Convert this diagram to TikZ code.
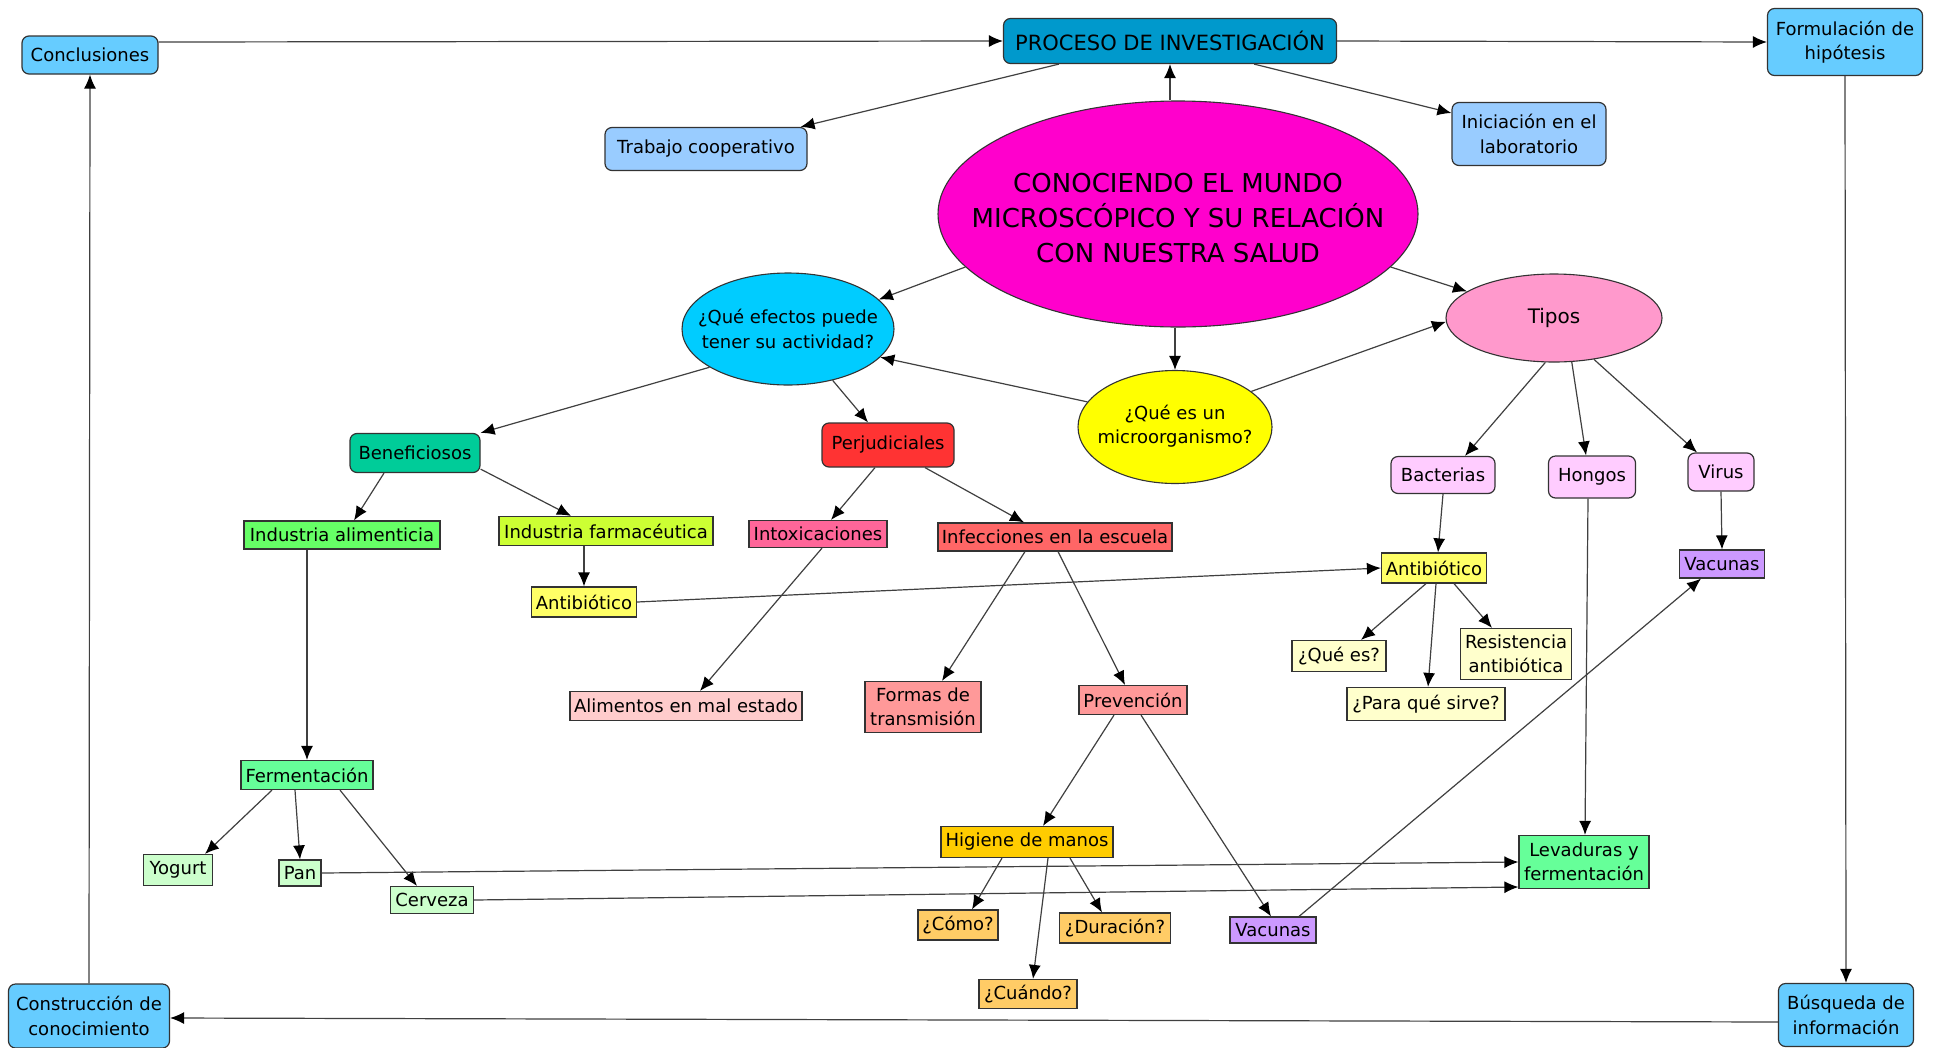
\documentclass[tikz,border=0pt]{standalone}
\usepackage{fontspec}
\setmainfont{DejaVu Sans}
\usetikzlibrary{arrows.meta,shapes.geometric}
\definecolor{bordc}{HTML}{333333}
\definecolor{linec}{HTML}{404040}
\definecolor{cSky}{HTML}{66CCFF}
\definecolor{cProc}{HTML}{0099CC}
\definecolor{cLblue}{HTML}{99CCFF}
\definecolor{cMag}{HTML}{FF00CC}
\definecolor{cCyan}{HTML}{00CCFF}
\definecolor{cYel}{HTML}{FFFF00}
\definecolor{cPink}{HTML}{FF99CC}
\definecolor{cTeal}{HTML}{00CC99}
\definecolor{cGreen}{HTML}{66FF66}
\definecolor{cLime}{HTML}{CCFF33}
\definecolor{cLyel}{HTML}{FFFF66}
\definecolor{cRed}{HTML}{FF3333}
\definecolor{cRose}{HTML}{FF6699}
\definecolor{cSalm}{HTML}{FF6666}
\definecolor{cPale}{HTML}{FFCCCC}
\definecolor{cSalm2}{HTML}{FF9999}
\definecolor{cLila}{HTML}{FFCCFF}
\definecolor{cViol}{HTML}{CC99FF}
\definecolor{cCream}{HTML}{FFFFCC}
\definecolor{cMint}{HTML}{66FF99}
\definecolor{cLmint}{HTML}{CCFFCC}
\definecolor{cOrange}{HTML}{FFCC00}
\definecolor{cLorange}{HTML}{FFCC66}
\newcommand\nfont{\fontsize{18pt}{24.5pt}\selectfont}
\newcommand\pfont{\fontsize{21pt}{25pt}\selectfont}
\newcommand\tfont{\fontsize{26pt}{35pt}\selectfont}
\newcommand\tipfont{\fontsize{20pt}{25pt}\selectfont}
\tikzset{
  sbox/.style={draw=bordc, line width=1.2pt, inner sep=0pt, align=center, font=\nfont, text=black},
  rbox/.style={sbox, rounded corners=7pt},
  ell/.style={ellipse, draw=bordc, line width=1.1pt, inner sep=0pt},
  etext/.style={align=center, font=\nfont, text=black, inner sep=0pt},
  conn/.style={draw=linec, line width=1.2pt, -{Latex[length=14pt,width=12pt,color=black]}}
}
\begin{document}
\begin{tikzpicture}[x=1pt,y=-1pt]
\useasboundingbox[fill=white] (0,0) rectangle (1935,1047);

% top row
\node[rbox, fill=cSky, minimum width=136pt, minimum height=38pt] (concl) at (90,55) {Conclusiones};
\node[rbox, fill=cProc, minimum width=333pt, minimum height=45pt, font=\pfont] (proc) at (1170,41) {PROCESO DE INVESTIGACIÓN};
\node[rbox, fill=cSky, minimum width=155pt, minimum height=67pt] (form) at (1845,42) {Formulación de\\hipótesis};
\node[rbox, fill=cLblue, minimum width=202pt, minimum height=43pt] (trab) at (706,149) {Trabajo cooperativo};
\node[rbox, fill=cLblue, minimum width=154pt, minimum height=63pt] (inic) at (1529,134) {Iniciación en el\\laboratorio};

% ellipses
\node[ell, fill=cMag, minimum width=480pt, minimum height=226pt] (main) at (1178,214) {};
\node[etext, font=\tfont] (maintext) at (1178,218) {CONOCIENDO EL MUNDO\\MICROSCÓPICO Y SU RELACIÓN\\CON NUESTRA SALUD};
\node[ell, fill=cCyan, minimum width=212pt, minimum height=112pt] (qefe) at (788,329) {};
\node[etext] (qefetext) at (788,329) {¿Qué efectos puede\\tener su actividad?};
\node[ell, fill=cYel, minimum width=194pt, minimum height=113pt] (qmic) at (1175,427) {};
\node[etext] (qmictext) at (1175,426) {¿Qué es un\\microorganismo?};
\node[ell, fill=cPink, minimum width=216pt, minimum height=88pt] (tipos) at (1554,318) {};
\node[etext, font=\tipfont] (tipostext) at (1554,318) {Tipos};

% left branch
\node[rbox, fill=cTeal, minimum width=130pt, minimum height=39pt] (benef) at (415,453) {Beneficiosos};
\node[sbox, fill=cGreen, minimum width=196pt, minimum height=28pt] (ia) at (342,535) {Industria alimenticia};
\node[sbox, fill=cLime, minimum width=214pt, minimum height=29pt] (if) at (606,531) {Industria farmacéutica};
\node[sbox, fill=cLyel, minimum width=105pt, minimum height=30pt] (antl) at (584,602) {Antibiótico};
\node[sbox, fill=cMint, minimum width=132pt, minimum height=29pt] (ferm) at (307,775) {Fermentación};
\node[sbox, fill=cLmint, minimum width=69pt, minimum height=31pt] (yog) at (178,870) {Yogurt};
\node[sbox, fill=cLmint, minimum width=42pt, minimum height=26pt] (pan) at (300,873) {Pan};
\node[sbox, fill=cLmint, minimum width=83pt, minimum height=27pt] (cerv) at (432,900) {Cerveza};

% middle branch
\node[rbox, fill=cRed, minimum width=132pt, minimum height=44pt] (perj) at (888,445) {Perjudiciales};
\node[sbox, fill=cRose, minimum width=138pt, minimum height=27pt] (intox) at (818,534) {Intoxicaciones};
\node[sbox, fill=cSalm, minimum width=234pt, minimum height=28pt] (infec) at (1055,537) {Infecciones en la escuela};
\node[sbox, fill=cPale, minimum width=232pt, minimum height=29pt] (alim) at (686,706) {Alimentos en mal estado};
\node[sbox, fill=cSalm2, minimum width=116pt, minimum height=51pt] (formas) at (923,707) {Formas de\\transmisión};
\node[sbox, fill=cSalm2, minimum width=108pt, minimum height=29pt] (prev) at (1133,700) {Prevención};
\node[sbox, fill=cOrange, minimum width=172pt, minimum height=31pt] (hig) at (1027,842) {Higiene de manos};
\node[sbox, fill=cLorange, minimum width=80pt, minimum height=30pt] (como) at (958,925) {¿Cómo?};
\node[sbox, fill=cLorange, minimum width=111pt, minimum height=30pt] (dur) at (1115,928) {¿Duración?};
\node[sbox, fill=cLorange, minimum width=98pt, minimum height=29pt] (cuando) at (1028,994) {¿Cuándo?};
\node[sbox, fill=cViol, minimum width=86pt, minimum height=26pt] (vacb) at (1273,930) {Vacunas};

% right branch
\node[rbox, fill=cLila, minimum width=104pt, minimum height=37pt] (bact) at (1443,475) {Bacterias};
\node[rbox, fill=cLila, minimum width=87pt, minimum height=42pt] (hong) at (1592,477) {Hongos};
\node[rbox, fill=cLila, minimum width=66pt, minimum height=38pt] (virus) at (1721,472) {Virus};
\node[sbox, fill=cLyel, minimum width=105pt, minimum height=30pt] (antr) at (1434,568) {Antibiótico};
\node[sbox, fill=cViol, minimum width=85pt, minimum height=28pt] (vacr) at (1722,564) {Vacunas};
\node[sbox, fill=cCream, minimum width=94pt, minimum height=31pt] (quees) at (1339,656) {¿Qué es?};
\node[sbox, fill=cCream, minimum width=111pt, minimum height=51pt] (resist) at (1516,654) {Resistencia\\antibiótica};
\node[sbox, fill=cCream, minimum width=158pt, minimum height=33pt] (para) at (1426,704) {¿Para qué sirve?};
\node[sbox, fill=cMint, minimum width=130pt, minimum height=53pt] (lev) at (1584,862) {Levaduras y\\fermentación};

% bottom corners
\node[rbox, fill=cSky, minimum width=161pt, minimum height=64pt] (constr) at (89,1016) {Construcción de\\conocimiento};
\node[rbox, fill=cSky, minimum width=135pt, minimum height=63pt] (busq) at (1846,1015) {Búsqueda de\\información};

% outer cycle
\draw[conn] ([yshift=13pt]concl.east) -- (proc.west);
\draw[conn] (proc.east) -- (form.west);
\draw[conn] (form.south) -- (busq.north);
\draw[conn] ([yshift=-7pt]busq.west) -- ([yshift=-2pt]constr.east);
\draw[conn] (constr.north) -- (concl.south);

% around the main ellipse
\draw[conn] (proc.south |- main.north) -- (proc.south);
\draw[conn] ([xshift=56pt]proc.south west) -- ([xshift=-7pt]trab.north east);
\draw[conn] ([xshift=-83pt]proc.south east) -- ([yshift=21pt]inic.west);
\draw[conn] (main.194) -- (qefe.18);
\draw[conn] (main.346) -- (tipos.163);
\draw[conn] (qmic.north |- main.south) -- (qmic.north);
\draw[conn] (qmic.164) -- (qefe.343);
\draw[conn] (qmic.25) -- (tipos.182);

% left branch
\draw[conn] (qefe.206) -- (benef.north east);
\draw[conn] (qefe.311) -- ([xshift=-20pt]perj.north);
\draw[conn] ([xshift=-31pt]benef.south) -- ([xshift=12pt]ia.north);
\draw[conn] ([yshift=4pt]benef.south east) -- ([xshift=-35pt]if.north);
\draw[conn] (antl.north |- if.south) -- (antl.north);
\draw[conn] (ferm.north |- ia.south) -- (ferm.north);
\draw[conn] (antl.east) -- (antr.west);
\draw[conn] ([xshift=-35pt]ferm.south) -- ([xshift=27pt]yog.north);
\draw[conn] ([xshift=-12pt]ferm.south) -- (pan.north);
\draw[conn] ([xshift=33pt]ferm.south) -- ([xshift=-15pt]cerv.north);
\draw[conn] (pan.east) -- (lev.west);
\draw[conn] (cerv.east) -- ([yshift=-25pt]lev.west);

% middle branch
\draw[conn] ([xshift=-13pt]perj.south) -- ([xshift=13pt]intox.north);
\draw[conn] ([xshift=37pt]perj.south) -- ([xshift=-31pt]infec.north);
\draw[conn] ([xshift=4pt]intox.south) -- ([xshift=14pt]alim.north);
\draw[conn] ([xshift=-30pt]infec.south) -- ([xshift=19pt]formas.north);
\draw[conn] ([xshift=3pt]infec.south) -- ([xshift=-8pt]prev.north);
\draw[conn] ([xshift=-19pt]prev.south) -- ([xshift=16pt]hig.north);
\draw[conn] ([xshift=8pt]prev.south) -- ([xshift=-2pt]vacb.north);
\draw[conn] ([xshift=-25pt]hig.south) -- ([xshift=14pt]como.north);
\draw[conn] ([xshift=21pt]hig.south) -- ([xshift=5pt]cuando.north);
\draw[conn] ([xshift=43pt]hig.south) -- ([xshift=-13pt]dur.north);
\draw[conn] ([xshift=26pt]vacb.north) -- ([xshift=-21pt]vacr.south);

% right branch
\draw[conn] (tipos.259) -- ([xshift=22pt]bact.north);
\draw[conn] (tipos.292) -- ([xshift=-6pt]hong.north);
\draw[conn] (tipos.314) -- ([xshift=-24pt]virus.north);
\draw[conn] (bact.south) -- ([xshift=4pt]antr.north);
\draw[conn] (virus.south) -- (vacr.north);
\draw[conn] ([xshift=-4pt]hong.south) -- ([xshift=1pt]lev.north);
\draw[conn] ([xshift=-8pt]antr.south) -- ([xshift=22pt]quees.north);
\draw[conn] ([xshift=2pt]antr.south) -- ([xshift=2pt]para.north);
\draw[conn] ([xshift=20pt]antr.south) -- ([xshift=-24pt]resist.north);
\end{tikzpicture}
\end{document}
